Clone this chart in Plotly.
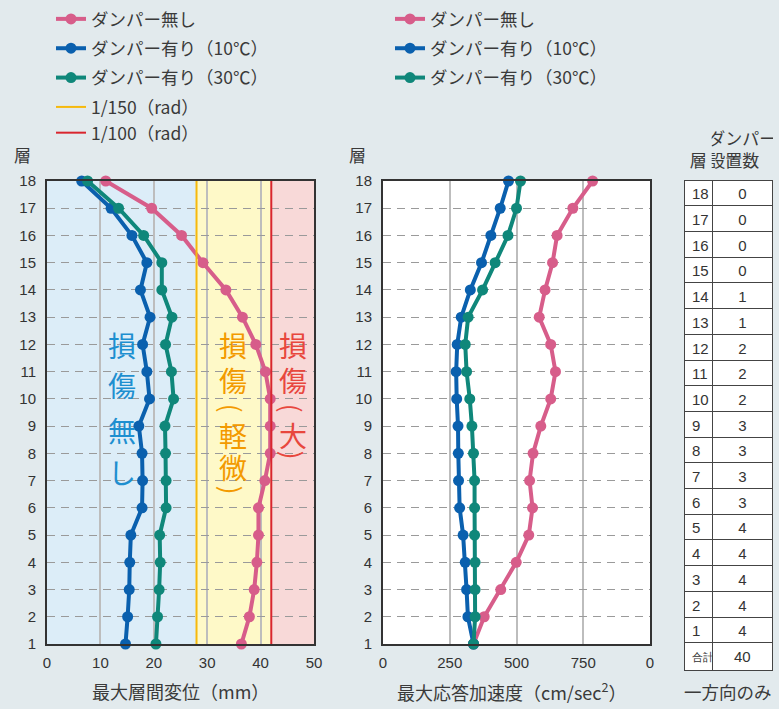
import plotly.graph_objects as go

W, H = 779, 709

floors = list(range(18, 0, -1))  # 18 .. 1

# 最大層間変位 (mm)
drift_none = [11.0, 19.6, 25.2, 29.2, 33.5, 36.6, 39.1, 40.9, 41.8, 41.8, 41.8, 40.8, 39.6, 39.6, 39.3, 38.8, 37.9, 36.4]
drift_10 = [6.5, 12.0, 15.9, 18.7, 17.5, 19.3, 17.9, 18.7, 19.2, 17.2, 17.8, 17.9, 17.8, 15.7, 15.5, 15.4, 15.1, 14.7]
drift_30 = [7.6, 13.4, 18.1, 21.5, 21.5, 23.4, 22.2, 23.3, 23.7, 22.1, 22.2, 22.3, 22.3, 21.1, 21.2, 21.0, 20.7, 20.4]

# 最大応答加速度 (cm/sec2)
acc_none = [785, 711, 652, 635, 607, 585, 628, 646, 628, 591, 562, 549, 560, 546, 499, 441, 379, 339]
acc_10 = [470, 439, 404, 369, 327, 293, 278, 274, 276, 281, 282, 283, 287, 300, 308, 313, 318, 339]
acc_30 = [515, 500, 468, 420, 373, 319, 308, 313, 325, 333, 339, 343, 343, 343, 345, 345, 345, 339]

limit_150 = 28
limit_100 = 42

table_floors = ["18", "17", "16", "15", "14", "13", "12", "11", "10", "9", "8", "7", "6", "5", "4", "3", "2", "1", "合計"]
table_dampers = ["0", "0", "0", "0", "1", "1", "2", "2", "2", "3", "3", "3", "3", "4", "4", "4", "4", "4", "40"]

series_names = ["ダンパー無し", "ダンパー有り（10℃）", "ダンパー有り（30℃）"]
limit_names = ["1/150（rad）", "1/100（rad）"]

PINK = "#d75d8a"
BLUE = "#0a60ae"
TEAL = "#0f877a"
YELLOW = "#f6b90c"
RED = "#d9252e"
CJK = "Noto Sans CJK JP"
NUM = "Liberation Sans"
TXT = "#3a3a3a"


def px_x(p):
    return p / W


def px_y(p):
    return 1 - p / H


fig = go.Figure()

colors = [PINK, BLUE, TEAL]
for i, (name, data) in enumerate(zip(series_names, [drift_none, drift_10, drift_30])):
    fig.add_trace(go.Scatter(
        x=data, y=floors, mode="lines+markers", name=name,
        line=dict(color=colors[i], width=4), marker=dict(color=colors[i], size=11),
        xaxis="x", yaxis="y", cliponaxis=False, legend="legend", legendgroup=f"l{i}",
    ))

for val, name, col in zip([limit_150, limit_100], limit_names, [YELLOW, RED]):
    fig.add_trace(go.Scatter(
        x=[val, val], y=[1, 18], mode="lines", name=name,
        line=dict(color=col, width=2), xaxis="x", yaxis="y",
        legend="legend", legendgroup="lim",
    ))

for i, (name, data) in enumerate(zip(series_names, [acc_none, acc_10, acc_30])):
    fig.add_trace(go.Scatter(
        x=data, y=floors, mode="lines+markers", name=name,
        line=dict(color=colors[i], width=4), marker=dict(color=colors[i], size=11),
        xaxis="x2", yaxis="y2", cliponaxis=False, legend="legend2", legendgroup=f"r{i}",
    ))

# table ("合計" drawn smaller, as in the reference)
floor_cells = [f if f != "合計" else "<sub>合計</sub>" for f in table_floors]
fig.add_trace(go.Table(
    domain=dict(x=[px_x(684), px_x(773)], y=[px_y(672), px_y(117)]),
    columnwidth=[29, 60],
    header=dict(values=["\u00a0<br>層", "ダンパー<br>設置数"],
                fill=dict(color="rgba(0,0,0,0)"), line=dict(width=0, color="rgba(0,0,0,0)"),
                font=dict(family=CJK, size=17, color=TXT), align=["center", "center"], height=57),
    cells=dict(values=[floor_cells, table_dampers],
               fill=dict(color="white"), line=dict(color="#444", width=1),
               font=dict(family=NUM, size=15, color="#333"),
               align=["left", "center"], height=25.7),
))

# background zones in the drift plot
zones = [(0, limit_150, "#dcedf8"), (limit_150, limit_100, "#fef9c8"), (limit_100, 50, "#f8d9d8")]
shapes = []
for x0, x1, c in zones:
    shapes.append(dict(type="rect", xref="x", yref="y", x0=x0, x1=x1, y0=1, y1=18,
                       fillcolor=c, line=dict(width=0), layer="below"))

axis_common = dict(showline=True, mirror=True, linecolor="#333", linewidth=2, ticks="",
                   tickfont=dict(family=NUM, size=15, color="#333"), zeroline=False,
                   showgrid=True, fixedrange=True, automargin=False)

yaxis_common = dict(axis_common, range=[1, 18], tickvals=list(range(1, 19)),
                    gridcolor="#9a9a9a", griddash="8px,6px", gridwidth=1, ticklabelstandoff=6,
                    domain=[px_y(644), px_y(181)])

legend_common = dict(xanchor="left", yanchor="top", bgcolor="rgba(0,0,0,0)", borderwidth=0,
                     font=dict(family=CJK, size=17.5, color=TXT), tracegroupgap=3.6, traceorder="grouped")

fig.update_layout(
    width=W, height=H, margin=dict(l=0, r=0, t=0, b=0, pad=0, autoexpand=False),
    paper_bgcolor="#e2eaed", plot_bgcolor="white",
    showlegend=True,
    xaxis=dict(axis_common, domain=[px_x(47), px_x(314)], range=[0, 50], tickvals=[0, 10, 20, 30, 40, 50],
               gridcolor="#bdbdbd", gridwidth=1.5, anchor="y", ticklabelstandoff=4),
    yaxis=dict(yaxis_common, anchor="x"),
    xaxis2=dict(axis_common, domain=[px_x(383), px_x(650)], range=[0, 1000],
                tickvals=[0, 250, 500, 750, 1000], ticktext=["0", "250", "500", "750", "0"],
                gridcolor="#bdbdbd", gridwidth=1.5, anchor="y2", ticklabelstandoff=4),
    yaxis2=dict(yaxis_common, anchor="x2"),
    legend=dict(legend_common, x=px_x(51), y=px_y(1)),
    legend2=dict(legend_common, x=px_x(390), y=px_y(1)),
    shapes=shapes,
)

ann = []
paper_font = dict(family=CJK, size=18, color=TXT)
for xp in [22, 357]:
    ann.append(dict(text="層", x=px_x(xp), y=px_y(154), xref="paper", yref="paper", showarrow=False,
                    xanchor="center", yanchor="middle", font=dict(family=CJK, size=17, color=TXT)))
ann.append(dict(text="最大層間変位（mm）", x=px_x(180), y=px_y(691), xref="paper", yref="paper",
                showarrow=False, xanchor="center", yanchor="middle", font=paper_font))
ann.append(dict(text="最大応答加速度（cm/sec<sup>2</sup>）", x=px_x(512), y=px_y(691), xref="paper", yref="paper",
                showarrow=False, xanchor="center", yanchor="middle", font=paper_font))
ann.append(dict(text="一方向のみ", x=px_x(728), y=px_y(691), xref="paper", yref="paper",
                showarrow=False, xanchor="center", yanchor="middle",
                font=dict(family=CJK, size=17.5, color=TXT)))

# damage zone labels (vertical writing; parentheses rotated to vertical form)
zone_labels = [
    (14.0, "#1e8fd0", [("損", 11.98), ("傷", 10.51), ("無", 8.86), ("し", 7.32)]),
    (34.9, "#f39a00", [("損", 11.98), ("傷", 10.69), ("(", 9.665), ("軽", 8.67), ("微", 7.50), (")", 6.65)]),
    (46.1, "#e8473d", [("損", 11.98), ("傷", 10.69), ("(", 9.665), ("大", 8.67), (")", 7.94)]),
]
for xv, col, chars in zone_labels:
    for ch, yv in chars:
        rot = ch in "()"
        ann.append(dict(text=ch, x=xv, y=yv, xref="x", yref="y", showarrow=False,
                        textangle=90 if rot else 0,
                        xanchor="center", yanchor="middle",
                        font=dict(family=CJK, size=26 if rot else 28, color=col)))

fig.update_layout(annotations=ann)

fig.write_html("out.html", config={"displayModeBar": False},
               post_script="document.body.style.margin='0';")
